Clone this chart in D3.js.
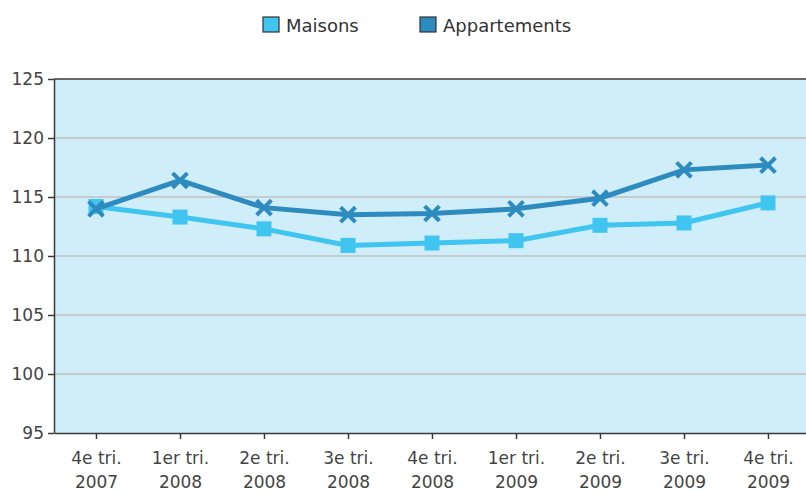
<!DOCTYPE html>
<html>
<head>
<meta charset="utf-8">
<script src="https://cdn.jsdelivr.net/npm/d3@7"></script>
<style>
body { margin: 0; background: #fff; }
svg { font-family: "DejaVu Sans", Verdana, sans-serif; display: block; }
</style>
</head>
<body>
<svg></svg>
<script>
var width = 806;
var height = 492;
var margin = {top: 79, right: -4, bottom: 59, left: 54};
var fontFamily = "DejaVu Sans, Verdana, sans-serif";

var quarters = ["4e tri.|2007", "1er tri.|2008", "2e tri.|2008", "3e tri.|2008", "4e tri.|2008",
                "1er tri.|2009", "2e tri.|2009", "3e tri.|2009", "4e tri.|2009"];
var maisons = [114.2, 113.3, 112.3, 110.9, 111.1, 111.3, 112.6, 112.8, 114.5];
var appartements = [114.0, 116.4, 114.1, 113.5, 113.6, 114.0, 114.9, 117.3, 117.7];
var yTicks = [95, 100, 105, 110, 115, 120, 125];

var colMaisons = "#40c4f0";
var colApparts = "#2e8bbf";

var svg = d3.select("svg").attr("width", width).attr("height", height);

var xScale = d3.scalePoint()
	.domain(quarters)
	.range([margin.left, width - margin.right])
	.padding(0.5);

var yScale = d3.scaleLinear()
	.domain([95, 125])
	.range([height - margin.bottom, margin.top]);

// plot background
svg.append("rect")
	.attr("x", margin.left)
	.attr("y", margin.top)
	.attr("width", width - margin.right - margin.left)
	.attr("height", height - margin.bottom - margin.top)
	.attr("fill", "#d0eefa");

// gridlines
svg.append("g")
	.selectAll("line")
	.data(yTicks.slice(1, -1))
	.enter()
	.append("line")
		.attr("x1", margin.left)
		.attr("x2", width)
		.attr("y1", d => yScale(d))
		.attr("y2", d => yScale(d))
		.attr("stroke", "#c0c0c0")
		.attr("stroke-width", 1.5);

// top border
svg.append("line")
	.attr("x1", margin.left).attr("x2", width)
	.attr("y1", margin.top).attr("y2", margin.top)
	.attr("stroke", "#3a3a3a").attr("stroke-width", 1.5);

var yAxis = d3.axisLeft(yScale).tickValues(yTicks).tickSize(6).tickSizeOuter(0);
var gy = svg.append("g")
	.attr("transform", "translate(" + margin.left + ",0)")
	.call(yAxis)
	.attr("font-family", fontFamily)
	.attr("font-size", 17);
gy.select(".domain").attr("stroke", "#3a3a3a").attr("stroke-width", 1.5);
gy.selectAll(".tick line").attr("stroke", "#3a3a3a").attr("stroke-width", 1.5);
gy.selectAll("text").attr("fill", "#444").attr("x", -10);

var xAxis = d3.axisBottom(xScale).tickSize(6).tickSizeOuter(0).tickFormat("");
var gx = svg.append("g")
	.attr("transform", "translate(0," + (height - margin.bottom) + ")")
	.call(xAxis)
	.attr("font-family", fontFamily)
	.attr("font-size", 17);
gx.select(".domain").attr("stroke", "#3a3a3a").attr("stroke-width", 1.5);
gx.selectAll(".tick line").attr("stroke", "#3a3a3a").attr("stroke-width", 1.5);
gx.selectAll(".tick").each(function(d) {
	var parts = d.split("|");
	var t = d3.select(this).append("text")
		.attr("fill", "#444")
		.attr("text-anchor", "middle");
	t.append("tspan").attr("x", 0).attr("y", 31).text(parts[0]);
	t.append("tspan").attr("x", 0).attr("y", 55).text(parts[1]);
});

var line = d3.line()
	.x((d, i) => xScale(quarters[i]))
	.y(d => yScale(d));

// Maisons
svg.append("path")
	.datum(maisons)
	.attr("d", line)
	.attr("fill", "none")
	.attr("stroke", colMaisons)
	.attr("stroke-width", 5);
svg.append("g")
	.selectAll("rect")
	.data(maisons)
	.enter()
	.append("rect")
		.attr("x", (d, i) => xScale(quarters[i]) - 7.5)
		.attr("y", d => yScale(d) - 7.5)
		.attr("width", 15)
		.attr("height", 15)
		.attr("fill", colMaisons);

// Appartements
svg.append("path")
	.datum(appartements)
	.attr("d", line)
	.attr("fill", "none")
	.attr("stroke", colApparts)
	.attr("stroke-width", 5);
svg.append("g")
	.selectAll("path")
	.data(appartements)
	.enter()
	.append("path")
		.attr("transform", (d, i) => "translate(" + xScale(quarters[i]) + "," + yScale(d) + ")")
		.attr("d", "M-6,-6L6,6M-6,6L6,-6")
		.attr("stroke", colApparts)
		.attr("stroke-width", 4)
		.attr("stroke-linecap", "square");

// legend
var legend = [
	{name: "Maisons", color: colMaisons, x: 263},
	{name: "Appartements", color: colApparts, x: 420}
];
var lg = svg.append("g").selectAll("g").data(legend).enter().append("g")
	.attr("transform", d => "translate(" + d.x + ",17)");
lg.append("rect")
	.attr("width", 16).attr("height", 15)
	.attr("fill", d => d.color)
	.attr("stroke", "#333").attr("stroke-width", 1.2);
lg.append("text")
	.attr("x", 23).attr("y", 15)
	.attr("fill", "#333")
	.style("font-size", "18px")
	.text(d => d.name);
</script>
</body>
</html>
